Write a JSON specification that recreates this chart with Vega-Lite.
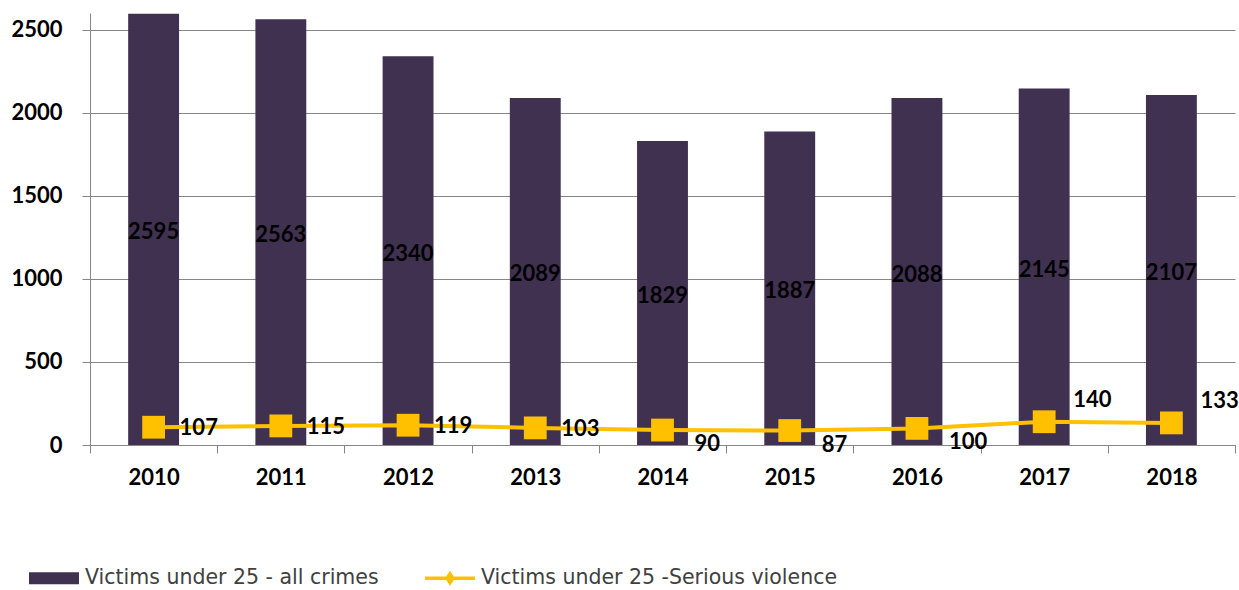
{
  "$schema": "https://vega.github.io/schema/vega-lite/v6.json",
  "width": 1145,
  "height": 432,
  "autosize": "none",
  "padding": {"left": 90, "top": 13, "right": 4, "bottom": 145},
  "background": "white",
  "config": {"view": {"stroke": null}},
  "data": {
    "values": [
      {"year": "2010", "all": 2595, "serious": 107},
      {"year": "2011", "all": 2563, "serious": 115},
      {"year": "2012", "all": 2340, "serious": 119},
      {"year": "2013", "all": 2089, "serious": 103},
      {"year": "2014", "all": 1829, "serious": 90},
      {"year": "2015", "all": 1887, "serious": 87},
      {"year": "2016", "all": 2088, "serious": 100},
      {"year": "2017", "all": 2145, "serious": 140},
      {"year": "2018", "all": 2107, "serious": 133}
    ]
  },
  "encoding": {
    "x": {
      "field": "year", "type": "ordinal",
      "scale": {"paddingInner": 0, "paddingOuter": 0},
      "axis": {
        "title": null, "labelAngle": 0, "grid": false,
        "tickBand": "extent", "tickSize": 8, "tickColor": "#868686",
        "domainColor": "#868686", "labelFont": "Lato", "labelFontWeight": "bold",
        "labelFontSize": 22, "labelColor": "#000000", "labelPadding": 14
      }
    }
  },
  "layer": [
    {
      "mark": {"type": "bar", "width": {"band": 0.4}},
      "encoding": {
        "y": {
          "field": "all", "type": "quantitative",
          "scale": {"domain": [0, 2600], "nice": false},
          "axis": {
            "title": null, "values": [0, 500, 1000, 1500, 2000, 2500], "format": "d",
            "gridColor": "#868686", "domainColor": "#868686", "tickColor": "#868686",
            "tickSize": 8, "labelFont": "Lato", "labelFontWeight": "bold",
            "labelFontSize": 22, "labelColor": "#000000", "labelPadding": 20
          }
        },
        "color": {
          "datum": "Victims under 25 - all crimes",
          "scale": {
            "domain": ["Victims under 25 - all crimes", "Victims under 25 -Serious violence"],
            "range": ["#403151", "#FFC000"]
          },
          "legend": {
            "orient": "none", "legendX": -61, "legendY": 540, "direction": "horizontal",
            "title": null, "padding": 0,
            "labelFont": "DejaVu Sans", "labelFontSize": 20.5, "labelColor": "#404040",
            "labelLimit": 500, "labelOffset": 6, "columnPadding": 46,
            "symbolSize": 2500, "symbolStrokeWidth": 0,
            "encode": {
              "symbols": {
                "update": {
                  "shape": {"signal": "datum.value === 'Victims under 25 - all crimes' ? 'M-1,-0.24H1V0.24H-1Z' : 'M-1,-0.07H1V0.07H-1Z M0,-0.3L0.2,0L0,0.3L-0.2,0Z'"},
                  "fill": {"scale": "color", "field": "value"},
                  "strokeWidth": {"value": 0},
                  "opacity": {"value": 1}
                }
              }
            }
          }
        }
      }
    },
    {
      "mark": {"type": "text", "font": "Lato", "fontWeight": "bold", "fontSize": 22, "color": "#000000", "baseline": "middle", "dy": 3},
      "encoding": {
        "y": {"field": "all", "type": "quantitative", "scale": {"domain": [0, 5200], "nice": false}, "axis": null},
        "text": {"field": "all", "type": "quantitative"}
      }
    },
    {
      "mark": {"type": "line", "strokeWidth": 4, "point": {"filled": true, "shape": "square", "size": 520, "opacity": 1}},
      "encoding": {
        "y": {"field": "serious", "type": "quantitative", "scale": {"domain": [0, 2600], "nice": false}, "axis": null},
        "color": {"datum": "Victims under 25 -Serious violence"}
      }
    },
    {
      "transform": [{"filter": "datum.year <= '2013'"}],
      "mark": {"type": "text", "font": "Lato", "fontWeight": "bold", "fontSize": 22, "color": "#000000", "align": "left", "baseline": "middle", "dx": 26, "dy": 1},
      "encoding": {
        "y": {"field": "serious", "type": "quantitative", "scale": {"domain": [0, 2600], "nice": false}, "axis": null},
        "text": {"field": "serious", "type": "quantitative"}
      }
    },
    {
      "transform": [{"filter": "datum.year >= '2014' && datum.year <= '2016'"}],
      "mark": {"type": "text", "font": "Lato", "fontWeight": "bold", "fontSize": 22, "color": "#000000", "align": "left", "baseline": "middle", "dx": 32, "dy": 14},
      "encoding": {
        "y": {"field": "serious", "type": "quantitative", "scale": {"domain": [0, 2600], "nice": false}, "axis": null},
        "text": {"field": "serious", "type": "quantitative"}
      }
    },
    {
      "transform": [{"filter": "datum.year >= '2017'"}],
      "mark": {"type": "text", "font": "Lato", "fontWeight": "bold", "fontSize": 22, "color": "#000000", "align": "left", "baseline": "middle", "dx": 29, "dy": -22},
      "encoding": {
        "y": {"field": "serious", "type": "quantitative", "scale": {"domain": [0, 2600], "nice": false}, "axis": null},
        "text": {"field": "serious", "type": "quantitative"}
      }
    }
  ],
  "resolve": {"scale": {"y": "independent"}}
}
